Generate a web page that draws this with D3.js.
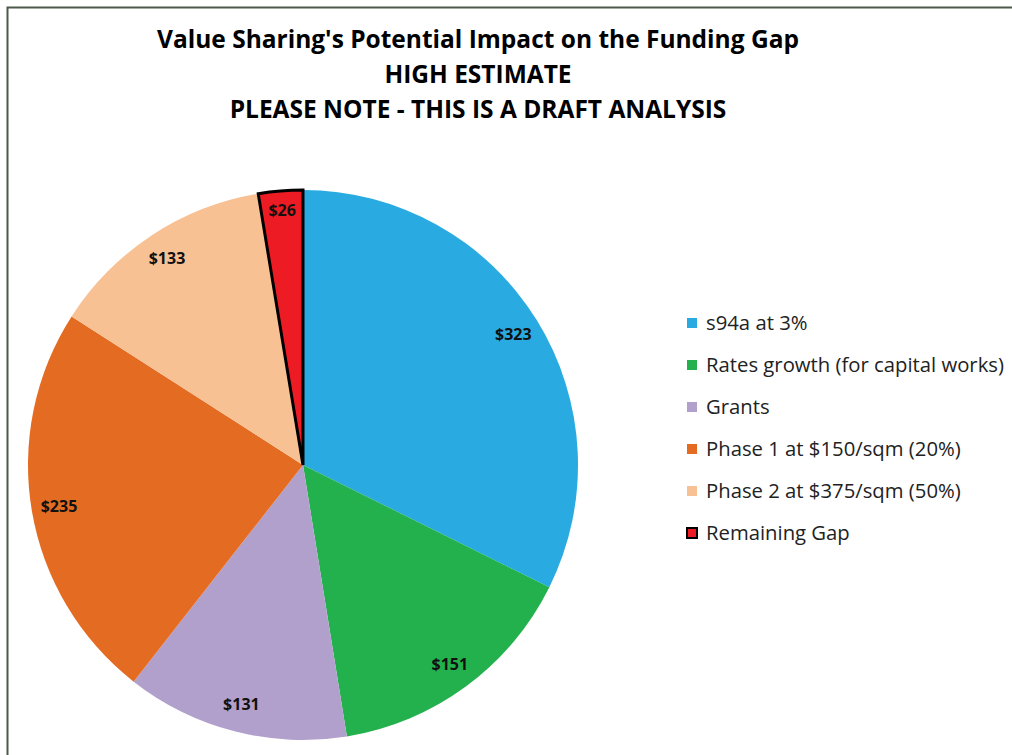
<!DOCTYPE html>
<html><head><meta charset="utf-8">
<script src="https://cdn.jsdelivr.net/npm/d3@7"></script>
<style>body{margin:0;background:#fff;}svg{display:block;}</style>
</head><body>
<script>
const categories = ["s94a at 3%","Rates growth (for capital works)","Grants","Phase 1 at $150/sqm (20%)","Phase 2 at $375/sqm (50%)","Remaining Gap"];
const values = [323,151,131,235,133,26];
const colors = ["#29abe2","#22b14c","#b1a0cb","#e46c22","#f8c193","#ed1c24"];
const titleLines = ["Value Sharing's Potential Impact on the Funding Gap","HIGH ESTIMATE","PLEASE NOTE - THIS IS A DRAFT ANALYSIS"];

const W=1012,H=755;
const svg=d3.select("body").append("svg").attr("width",W).attr("height",H);
svg.append("rect").attr("width",W).attr("height",H).attr("fill","#fff");
// frame
svg.append("path").attr("d",`M7.5,${H} V7.5 H${W}`).attr("fill","none").attr("stroke","#4b5a4b").attr("stroke-width",2);

const font="'Open Sans', 'Noto Sans', sans-serif";
svg.append("g").selectAll("text").data(titleLines).join("text")
 .attr("x",478).attr("y",(d,i)=>48+i*35).attr("text-anchor","middle")
 .attr("font-family",font).attr("font-weight","bold").attr("font-size",24.5)
 .attr("fill","#000").text(d=>d);

const cx=303,cy=465,r=275;
const data=categories.map((c,i)=>({name:c,value:values[i],color:colors[i]}));
const pie=d3.pie().value(d=>d.value).sort(null);
const arcs=pie(data);
const arc=d3.arc().innerRadius(0).outerRadius(r);
const g=svg.append("g").attr("transform",`translate(${cx},${cy})`);
g.selectAll("path").data(arcs).join("path")
 .attr("d",arc).attr("fill",d=>d.data.color)
 .attr("stroke",d=>d.data.name==="Remaining Gap"?"#000":"none")
 .attr("stroke-width",3).attr("stroke-linejoin","miter");
g.selectAll("path").filter(d=>d.data.name==="Remaining Gap").raise();

const labelArc=d3.arc().innerRadius(r*0.9).outerRadius(r*0.9);
const labelArcSmall=d3.arc().innerRadius(r*0.93).outerRadius(r*0.93);
g.selectAll("text").data(arcs).join("text")
 .attr("transform",d=>`translate(${(d.data.value<50?labelArcSmall:labelArc).centroid(d)})`)
 .attr("text-anchor","middle").attr("dy","0.35em")
 .attr("font-family",font).attr("font-weight","bold").attr("font-size",16)
 .attr("fill","#111").text(d=>"$"+d.data.value);

const lg=svg.append("g").attr("transform","translate(687,323)");
const items=lg.selectAll("g").data(data).join("g").attr("transform",(d,i)=>`translate(0,${i*42})`);
items.append("rect").attr("x",0).attr("y",-5).attr("width",10).attr("height",10)
 .attr("fill",d=>d.color).attr("stroke",d=>d.name==="Remaining Gap"?"#000":"none").attr("stroke-width",2);
items.append("text").attr("x",19).attr("dy","0.35em")
 .attr("font-family",font).attr("font-size",20.3).attr("fill","#222").text(d=>d.name);
</script>
</body></html>
